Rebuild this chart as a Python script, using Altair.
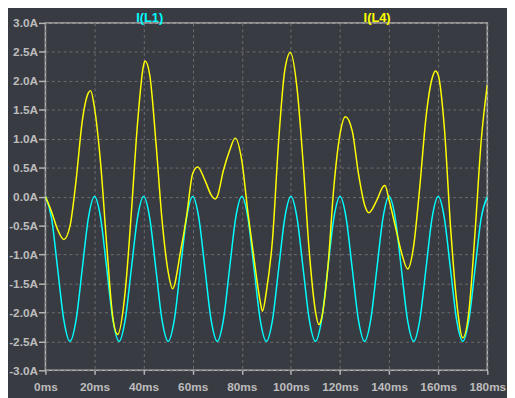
import altair as alt
import pandas as pd

# ---- data ----
trace_names = ["I(L1)", "I(L4)"]
trace_colors = ["#00ffff", "#ffff00"]

t_l1 = [0, 2.5, 5, 7.5, 10, 12.5, 15, 17.5,
        20, 22.5, 25, 27.5, 30, 32.5, 35, 37.5,
        40, 42.5, 45, 47.5, 50, 52.5, 55, 57.5,
        60, 62.5, 65, 67.5, 70, 72.5, 75, 77.5,
        80, 82.5, 85, 87.5, 90, 92.5, 95, 97.5,
        100, 102.5, 105, 107.5, 110, 112.5, 115, 117.5,
        120, 122.5, 125, 127.5, 130, 132.5, 135, 137.5,
        140, 142.5, 145, 147.5, 150, 152.5, 155, 157.5,
        160, 162.5, 165, 167.5, 170, 172.5, 175, 177.5,
        180]
i_l1 = [0, -0.37, -1.25, -2.13, -2.5, -2.13, -1.25, -0.37,
        0, -0.37, -1.25, -2.13, -2.5, -2.13, -1.25, -0.37,
        0, -0.37, -1.25, -2.13, -2.5, -2.13, -1.25, -0.37,
        0, -0.37, -1.25, -2.13, -2.5, -2.13, -1.25, -0.37,
        0, -0.37, -1.25, -2.13, -2.5, -2.13, -1.25, -0.37,
        0, -0.37, -1.25, -2.13, -2.5, -2.13, -1.25, -0.37,
        0, -0.37, -1.25, -2.13, -2.5, -2.13, -1.25, -0.37,
        0, -0.37, -1.25, -2.13, -2.5, -2.13, -1.25, -0.37,
        0, -0.37, -1.25, -2.13, -2.5, -2.13, -1.25, -0.37,
        0]

t_l4 = [0, 2.5, 5, 7.5, 10, 12.5, 15, 17.5, 18.4, 20,
        22.5, 25, 27.5, 29.4, 32.5, 35, 37.5, 40, 40.6, 42.5,
        45, 47.5, 50, 51.8, 55, 57.5, 60, 62.0, 65, 67.5,
        69.1, 70, 72.5, 75, 77.3, 80, 82.5, 85, 87.5, 88.4,
        90, 92.5, 95, 97.5, 99.8, 102.5, 105, 107.5, 110, 111.4,
        112.5, 115, 117.5, 120, 122.2, 125, 127.5, 130, 131.7, 135,
        137.5, 138.3, 140, 142.5, 145, 147.6, 150, 152.5, 155, 157.5,
        158.9, 160, 162.5, 165, 167.5, 170, 172.5, 175, 177.5, 180]
i_l4 = [0, -0.26, -0.57, -0.74, -0.51, 0.28, 1.30, 1.79, 1.83, 1.53,
        0.57, -0.85, -2.10, -2.38, -1.64, -0.28, 1.25, 2.27, 2.34, 2.10,
        0.95, -0.40, -1.30, -1.59, -0.96, -0.34, 0.40, 0.51, 0.28, 0.03,
        -0.04, 0.0, 0.45, 0.79, 1.01, 0.62, -0.28, -1.08, -1.81, -1.98,
        -1.64, -0.74, 0.96, 2.18, 2.49, 1.87, 0.57, -0.96, -1.98, -2.21,
        -2.10, -1.25, 0.17, 1.08, 1.38, 1.13, 0.40, -0.14, -0.28, -0.06,
        0.17, 0.19, -0.06, -0.51, -0.96, -1.25, -0.85, 0.17, 1.36, 2.04,
        2.17, 2.10, 1.19, -0.51, -1.81, -2.44, -1.98, -0.62, 0.96, 1.93]

y_ticks = [-3.0, -2.5, -2.0, -1.5, -1.0, -0.5, 0.0, 0.5, 1.0, 1.5, 2.0, 2.5, 3.0]
x_ticks = [0, 20, 40, 60, 80, 100, 120, 140, 160, 180]

df = pd.concat([
    pd.DataFrame({"t": t_l1, "i": i_l1, "trace": trace_names[0]}),
    pd.DataFrame({"t": t_l4, "i": i_l4, "trace": trace_names[1]}),
], ignore_index=True)

W, H = 449, 353
BG = "#393b43"
FRAME = "#b4b4b4"
LABEL = "#bdbdbd"
FONT = "Liberation Sans"

color_scale = alt.Scale(domain=trace_names, range=trace_colors)

lines = alt.Chart(df).mark_line(strokeWidth=1.5, interpolate="monotone", clip=True).encode(
    x=alt.X("t:Q", scale=alt.Scale(domain=[0, 180], nice=False, zero=False),
            axis=alt.Axis(values=x_ticks, title=None,
                          labelExpr="datum.value + 'ms'",
                          tickSize=4, labelPadding=8)),
    y=alt.Y("i:Q", scale=alt.Scale(domain=[-3, 3], nice=False, zero=False),
            axis=alt.Axis(values=y_ticks, title=None,
                          labelExpr="(datum.value < 0 ? '-' : '') + format(abs(datum.value), '.1f') + 'A'",
                          tickSize=7, labelPadding=1)),
    color=alt.Color("trace:N", scale=color_scale, legend=None),
)

label1 = alt.Chart(pd.DataFrame({"name": [trace_names[0]]})).mark_text(
    font=FONT, fontWeight="bold", fontSize=13, color=trace_colors[0], baseline="top", align="center"
).encode(text="name:N", x=alt.value(106), y=alt.value(-11))

label2 = alt.Chart(pd.DataFrame({"name": [trace_names[1]]})).mark_text(
    font=FONT, fontWeight="bold", fontSize=13, color=trace_colors[1], baseline="top", align="center"
).encode(text="name:N", x=alt.value(337), y=alt.value(-11))

chart = alt.layer(lines, label1, label2).properties(
    width=W, height=H,
    background=BG,
    autosize=alt.AutoSizeParams(type="none"),
    padding={"left": 38, "top": 12, "right": 20, "bottom": 25},
).configure_view(
    stroke=FRAME, strokeWidth=1.5, fill=BG
).configure_axis(
    domain=False,
    grid=True, gridColor="#6e6e6e", gridDash=[3, 3], gridWidth=1,
    tickColor=FRAME, tickWidth=1.5,
    labelColor=LABEL, labelFont=FONT, labelFontWeight="bold", labelFontSize=12,
    labelFlush=False, labelOverlap=False, labelBound=False,
)

chart.save("out.html", embed_options={"renderer": "svg", "actions": False})
